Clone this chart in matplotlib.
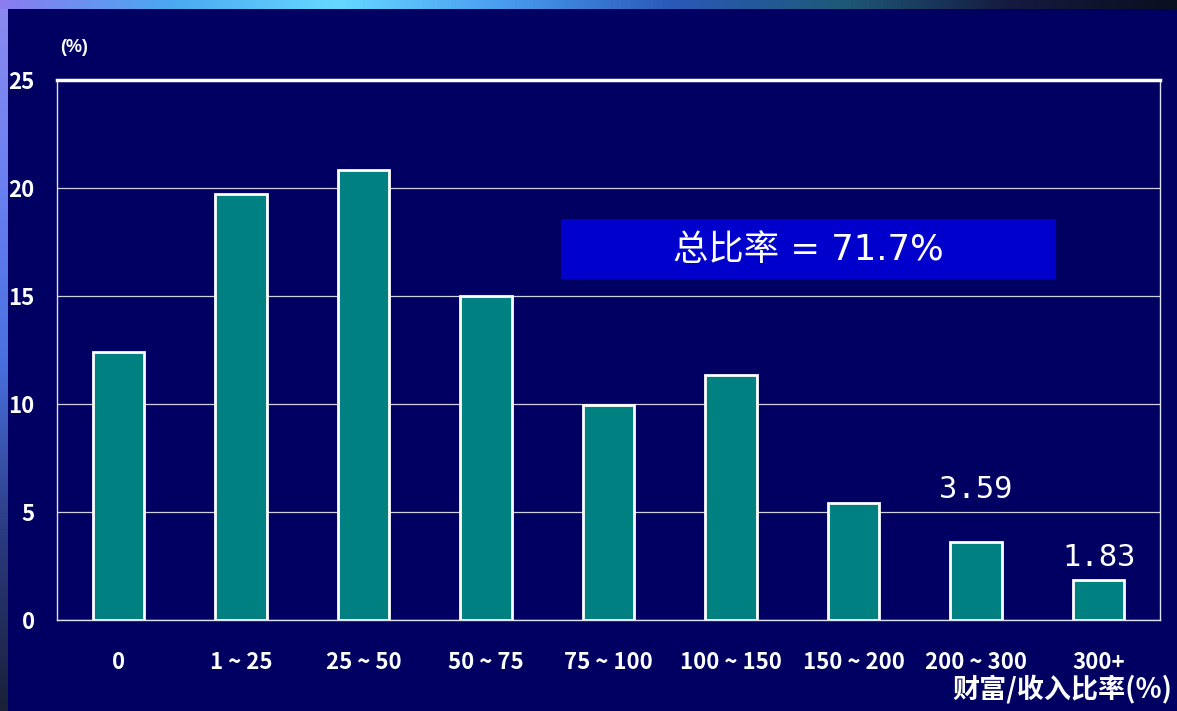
import numpy as np
import matplotlib.pyplot as plt
from matplotlib.colors import LinearSegmentedColormap

plt.rcParams['font.family'] = ['Liberation Sans Narrow', 'Noto Sans CJK SC', 'DejaVu Sans']

categories = ['0', '1 ~ 25', '25 ~ 50', '50 ~ 75', '75 ~ 100', '100 ~ 150',
              '150 ~ 200', '200 ~ 300', '300+']
shares = [12.4, 19.72, 20.83, 15.0, 9.95, 11.34, 5.42, 3.59, 1.83]
yticks = [0, 5, 10, 15, 20, 25]
labelled = {7: '3.59', 8: '1.83'}

BG = '#000063'
BAR = '#008080'

fig = plt.figure(figsize=(11.77, 7.11), dpi=100, facecolor=BG)

# gradient frame along the top and left edge
top = fig.add_axes([0, 1 - 9/711, 1, 9/711])
cmap_top = LinearSegmentedColormap.from_list(
    'top', ['#8a7cf0', '#4aa8f0', '#66d8ff', '#4a9cf0', '#2a58b8', '#1e5a7a', '#161a40', '#0a0f20'])
top.imshow(np.linspace(0, 1, 256)[None, :], aspect='auto', cmap=cmap_top)
top.axis('off')
left = fig.add_axes([0, 0, 8/1177, 1 - 9/711])
cmap_left = LinearSegmentedColormap.from_list(
    'left', ['#1a2038', '#2a3a80', '#4a70e0', '#6a80f0', '#8a8af0'])
left.imshow(np.linspace(0, 1, 256)[::-1, None], aspect='auto', cmap=cmap_left)
left.axis('off')

ax = fig.add_axes([57/1177, 1 - 620/711, 1103/1177, 540/711])
ax.set_facecolor(BG)
x = np.arange(len(categories))
ax.bar(x, shares, width=0.42, color=BAR, edgecolor='white', linewidth=2, zorder=3)

ax.set_xlim(-0.5, len(categories) - 0.5)
ax.set_ylim(0, 25)
ax.set_yticks(yticks)
ax.yaxis.grid(True, color='#d0d0e0', linewidth=0.9, zorder=0)
ax.set_xticks(x)
ax.set_xticklabels(categories)
ax.tick_params(length=0, colors='white', labelsize=16, pad=22)
ax.tick_params(axis='y', pad=16)
for t in ax.get_xticklabels() + ax.get_yticklabels():
    t.set_fontweight('bold')
for s in ['left', 'bottom', 'right']:
    ax.spines[s].set_color('#e0e0f0')
    ax.spines[s].set_linewidth(1)
ax.spines['top'].set_color('white')
ax.spines['top'].set_linewidth(2.5)

for i, txt in labelled.items():
    yy = 5.65 if i == 7 else 2.5
    ax.text(x[i], yy, txt, color='white', fontsize=22, ha='center', va='baseline',
            family=['DejaVu Sans Mono', 'DejaVu Sans'])

# summary box
ax.add_patch(plt.Rectangle((3.61, 15.79), 4.04, 2.77, facecolor='#0000cc',
                           edgecolor='none', zorder=4))
ax.text(5.63, 17.15, '总比率 = 71.7%', color='white', fontsize=25.5, ha='center',
        va='center', zorder=5, family=['DejaVu Sans', 'Noto Sans CJK SC'])

fig.text(60/1177, 1 - 48/711, '(%)', color='white', fontsize=13, fontweight='bold',
         va='center', family=['Liberation Sans', 'DejaVu Sans'])
fig.text(1172/1177, 1 - 690/711, '财富/收入比率(%)', color='white', fontsize=19.5,
         fontweight='bold', ha='right', va='center',
         family=['Noto Sans CJK SC', 'DejaVu Sans'])

fig.savefig('out.png', dpi=100, facecolor=BG)
